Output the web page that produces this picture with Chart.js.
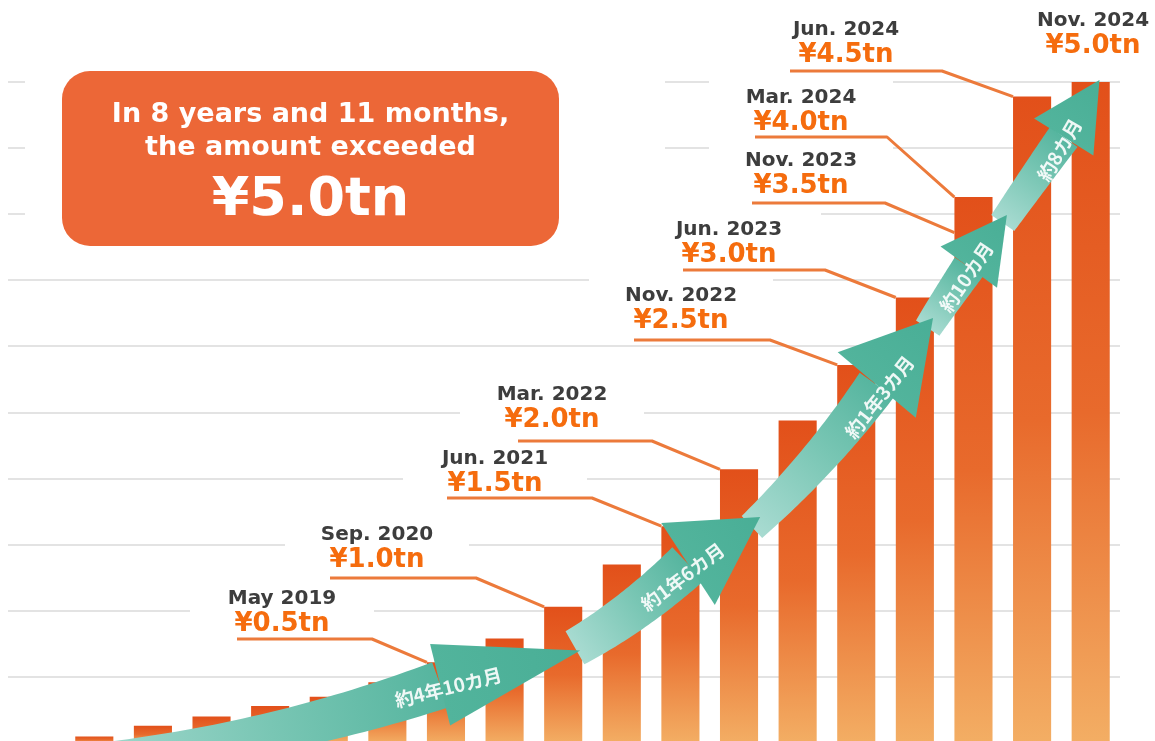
<!DOCTYPE html>
<html>
<head>
<meta charset="utf-8">
<script src="https://cdn.jsdelivr.net/npm/chart.js@4.4.1/dist/chart.umd.min.js"></script>
<style>
  html, body { margin: 0; padding: 0; background: #fff; overflow: hidden; }
  #wrap { position: relative; width: 1155px; height: 741px; overflow: hidden; }
  #chart { position: absolute; left: 0; top: 0; }
  #note {
    position: absolute; left: 62px; top: 71px; width: 497px; height: 175px;
    background: #ec6737; border-radius: 28px; color: #fff;
    font-family: "DejaVu Sans", sans-serif; font-weight: bold; text-align: center;
  }
  #note div { position: absolute; left: 0; right: 0; white-space: nowrap; }
  #note .l1 { top: 28px; font-size: 27px; line-height: 27px; }
  #note .l2 { top: 61px; font-size: 27px; line-height: 27px; }
  #note .big { top: 99px; font-size: 54px; line-height: 54px; }
</style>
</head>
<body>
<div id="wrap">
  <canvas id="chart" width="1155" height="760"></canvas>
  <div id="note">
    <div class="l1">In 8 years and 11 months,</div>
    <div class="l2">the amount exceeded</div>
    <div class="big">¥5.0tn</div>
  </div>
</div>
<script>
// bars (trillion yen)
const barLabels = ['1', '2', '3', '4', '5', '6', '7', '8', '9', '10', '11', '12', '13', '14', '15', '16', '17', '18'];
const barValues = [0.05, 0.13, 0.20, 0.28, 0.35, 0.46, 0.61, 0.79, 1.03, 1.35, 1.64, 2.07, 2.44, 2.86, 3.37, 4.13, 4.89, 5.00];

// milestones
const milestoneDates = ['May 2019', 'Sep. 2020', 'Jun. 2021', 'Mar. 2022', 'Nov. 2022', 'Jun. 2023', 'Nov. 2023', 'Mar. 2024', 'Jun. 2024', 'Nov. 2024'];
const milestoneAmounts = ['¥0.5tn', '¥1.0tn', '¥1.5tn', '¥2.0tn', '¥2.5tn', '¥3.0tn', '¥3.5tn', '¥4.0tn', '¥4.5tn', '¥5.0tn'];
const milestoneBar = [6, 8, 10, 11, 13, 14, 15, 15, 16, 17];
const milestoneHit = [null, null, null, null, null, null, 3.86, null, null, null];

// arrow captions
const arrowLabels = ['約4年10カ月', '約1年6カ月', '約1年3カ月', '約10カ月', '約8カ月'];

// label placement (px): centre x, date baseline, leader y, leader start, elbow
const labelLayout = [
  { cx: 282, yb: 604, ly: 639, x0: 237, xe: 372 },
  { cx: 377, yb: 540, ly: 578, x0: 330, xe: 476 },
  { cx: 495, yb: 464, ly: 498, x0: 447, xe: 592 },
  { cx: 552, yb: 400, ly: 441, x0: 518, xe: 652 },
  { cx: 681, yb: 301, ly: 340, x0: 634, xe: 770 },
  { cx: 729, yb: 235, ly: 270, x0: 683, xe: 825 },
  { cx: 801, yb: 166, ly: 203, x0: 752, xe: 885 },
  { cx: 801, yb: 103, ly: 137, x0: 755, xe: 887 },
  { cx: 846, yb: 35, ly: 71, x0: 790, xe: 942 },
  { cx: 1093, yb: 26, ly: null }
];

// arrow geometry in data units [category index, value]
const arrowPaths = [
  { tail: [-0.58, -0.144], ctrl: [2.83, -0.038], base: [5.90, 0.44], tip: [8.29, 0.70], w: [15, 24], hw: 42, text: [6.04, 0.42], rot: -14 },
  { tail: [8.20, 0.72], ctrl: [9.22, 0.976], base: [10.13, 1.354], tip: [11.36, 1.71], w: [19, 23], hw: 49, text: [10.04, 1.256], rot: -37 },
  { tail: [11.22, 1.634], ctrl: [12.41, 2.126], base: [13.35, 2.708], tip: [14.31, 3.215], w: [15, 21], hw: 51, text: [13.40, 2.617], rot: -52 },
  { tail: [14.22, 3.139], ctrl: [14.53, 3.351], base: [14.92, 3.60], tip: [15.57, 3.994], w: [14, 17], hw: 35, text: [14.88, 3.525], rot: -56 },
  { tail: [15.50, 3.933], ctrl: [15.96, 4.228], base: [16.54, 4.584], tip: [17.15, 5.015], w: [14, 17], hw: 35, text: [16.47, 4.486], rot: -60 }
];

function barFill(c) {
  const chart = c.chart, y = chart.scales.y;
  if (!y || !chart.chartArea || c.raw == null) return '#e8692b';
  const top = y.getPixelForValue(c.raw), bottom = y.getPixelForValue(0);
  if (!isFinite(top) || !isFinite(bottom) || top === bottom) return '#e8692b';
  const g = chart.ctx.createLinearGradient(0, top, 0, bottom);
  g.addColorStop(0, '#e2501a');
  g.addColorStop(0.5, '#e86a2c');
  g.addColorStop(1, '#f3ae64');
  return g;
}

function toPx(chart, pt) {
  return [chart.scales.x.getPixelForValue(pt[0]), chart.scales.y.getPixelForValue(pt[1])];
}

function drawBody(ctx, a, b, c, w0, w1) {
  const N = 40, left = [], right = [];
  for (let i = 0; i <= N; i++) {
    const t = i / N, u = 1 - t;
    const x = u*u*a[0] + 2*u*t*b[0] + t*t*c[0];
    const y = u*u*a[1] + 2*u*t*b[1] + t*t*c[1];
    const dx = 2*u*(b[0]-a[0]) + 2*t*(c[0]-b[0]);
    const dy = 2*u*(b[1]-a[1]) + 2*t*(c[1]-b[1]);
    const len = Math.hypot(dx, dy) || 1;
    const w = w0 + (w1 - w0) * t;
    left.push([x - dy/len*w, y + dx/len*w]);
    right.push([x + dy/len*w, y - dx/len*w]);
  }
  const g = ctx.createLinearGradient(a[0], a[1], c[0], c[1]);
  g.addColorStop(0, '#a8dbd1');
  g.addColorStop(0.55, '#79c6b4');
  g.addColorStop(1, '#56b59f');
  ctx.fillStyle = g;
  ctx.beginPath();
  left.forEach((p, i) => i ? ctx.lineTo(p[0], p[1]) : ctx.moveTo(p[0], p[1]));
  right.reverse().forEach(p => ctx.lineTo(p[0], p[1]));
  ctx.closePath();
  ctx.fill();
}

function drawHead(ctx, base, tip, hw) {
  const dx = tip[0] - base[0], dy = tip[1] - base[1];
  const len = Math.hypot(dx, dy);
  const px = -dy / len * hw, py = dx / len * hw;
  const g = ctx.createLinearGradient(base[0], base[1], tip[0], tip[1]);
  g.addColorStop(0, '#52b49c');
  g.addColorStop(1, '#49ae96');
  ctx.fillStyle = g;
  ctx.beginPath();
  ctx.moveTo(base[0] + px, base[1] + py);
  ctx.lineTo(tip[0], tip[1]);
  ctx.lineTo(base[0] - px, base[1] - py);
  ctx.closePath();
  ctx.fill();
}

const gridPlugin = {
  id: 'gridBg',
  beforeDatasetsDraw(chart) {
    const { ctx, chartArea, scales: { y } } = chart;
    ctx.save();
    ctx.strokeStyle = '#e3e3e3';
    ctx.lineWidth = 2;
    y.ticks.forEach(t => {
      if (t.value === 0) return;
      const py = Math.round(y.getPixelForValue(t.value));
      ctx.beginPath();
      ctx.moveTo(8, py);
      ctx.lineTo(chartArea.right, py);
      ctx.stroke();
    });
    // white margin round the note box
    ctx.fillStyle = '#fff';
    ctx.fillRect(25, 58, 640, 200);
    ctx.restore();
  }
};

const notesPlugin = {
  id: 'notes',
  afterDatasetsDraw(chart) {
    const { ctx, scales: { y } } = chart;
    const bars = chart.getDatasetMeta(0).data;
    ctx.save();

    // white boxes behind labels
    ctx.fillStyle = '#fff';
    labelLayout.forEach(l => ctx.fillRect(l.cx - 92, l.yb - 23, 184, 54));

    // leader lines
    ctx.strokeStyle = '#ec7a3b';
    ctx.lineWidth = 3;
    ctx.lineJoin = 'round';
    labelLayout.forEach((l, i) => {
      if (l.ly == null) return;
      const bar = bars[milestoneBar[i]];
      const ex = bar.x - bar.width / 2;
      const ey = milestoneHit[i] == null ? bar.y : y.getPixelForValue(milestoneHit[i]);
      ctx.beginPath();
      ctx.moveTo(l.x0, l.ly);
      ctx.lineTo(l.xe, l.ly);
      ctx.lineTo(ex, ey);
      ctx.stroke();
    });

    // arrows
    const pts = arrowPaths.map(a => ({
      tail: toPx(chart, a.tail), ctrl: toPx(chart, a.ctrl), base: toPx(chart, a.base),
      tip: toPx(chart, a.tip), text: toPx(chart, a.text), a
    }));
    pts.forEach(p => drawBody(ctx, p.tail, p.ctrl, p.base, p.a.w[0], p.a.w[1]));
    pts.forEach(p => drawHead(ctx, p.base, p.tip, p.a.hw));
    ctx.fillStyle = 'rgba(255,255,255,0.9)';
    ctx.font = 'bold 19px "Noto Sans CJK JP", sans-serif';
    ctx.textAlign = 'center';
    ctx.textBaseline = 'middle';
    pts.forEach((p, i) => {
      ctx.save();
      ctx.translate(p.text[0], p.text[1]);
      ctx.rotate(p.a.rot * Math.PI / 180);
      ctx.fillText(arrowLabels[i], 0, 0);
      ctx.restore();
    });

    // milestone labels
    ctx.textBaseline = 'alphabetic';
    labelLayout.forEach((l, i) => {
      ctx.fillStyle = '#3d3d3d';
      ctx.font = 'bold 20px "DejaVu Sans", sans-serif';
      ctx.fillText(milestoneDates[i], l.cx, l.yb);
      ctx.fillStyle = '#f56c0e';
      ctx.font = 'bold 26px "DejaVu Sans", sans-serif';
      ctx.fillText(milestoneAmounts[i], l.cx, l.yb + 27);
    });
    ctx.restore();
  }
};

new Chart(document.getElementById('chart'), {
  type: 'bar',
  data: {
    labels: barLabels,
    datasets: [{
      data: barValues,
      backgroundColor: barFill,
      borderWidth: 0,
      categoryPercentage: 1,
      barPercentage: 0.65
    }]
  },
  options: {
    responsive: false,
    animation: false,
    layout: { padding: { left: 65, right: 35, top: 82, bottom: 17 } },
    plugins: { legend: { display: false }, tooltip: { enabled: false } },
    scales: {
      x: { display: false },
      y: { display: false, min: 0, max: 5, ticks: { stepSize: 0.5 } }
    }
  },
  plugins: [gridPlugin, notesPlugin]
});
</script>
</body>
</html>
